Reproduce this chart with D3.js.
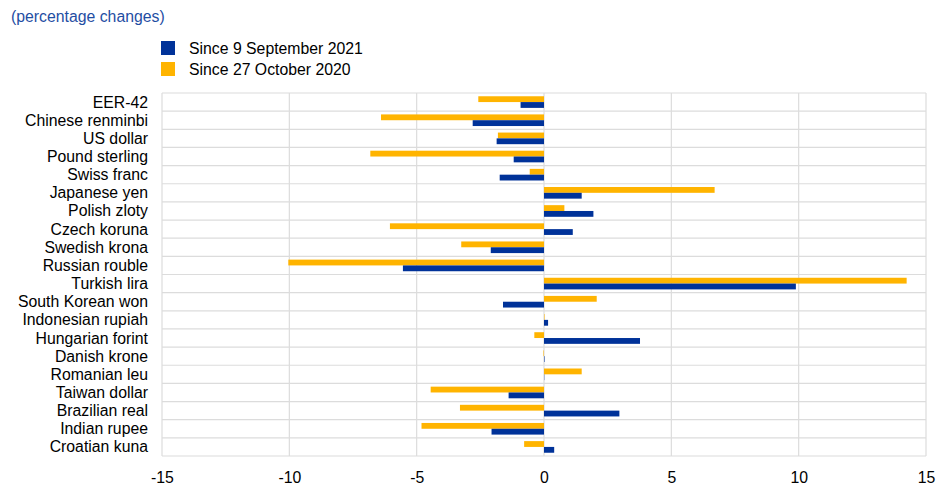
<!DOCTYPE html>
<html>
<head>
<meta charset="utf-8">
<script src="https://cdn.jsdelivr.net/npm/d3@7"></script>
<style>
  body { margin: 0; background: #fff; }
  svg { font-family: "Liberation Sans", Arial, sans-serif; }
</style>
</head>
<body>
<div id="chart"></div>
<script>
// categories, top to bottom
let categories = ['EER-42', 'Chinese renminbi', 'US dollar', 'Pound sterling', 'Swiss franc',
  'Japanese yen', 'Polish zloty', 'Czech koruna', 'Swedish krona', 'Russian rouble',
  'Turkish lira', 'South Korean won', 'Indonesian rupiah', 'Hungarian forint', 'Danish krone',
  'Romanian leu', 'Taiwan dollar', 'Brazilian real', 'Indian rupee', 'Croatian kuna'];

let seriesNames = ['Since 9 September 2021', 'Since 27 October 2020'];

// since 9 September 2021
let sinceSep2021 = [-0.92, -2.80, -1.86, -1.19, -1.74, 1.48, 1.94, 1.13, -2.09, -5.54,
  9.89, -1.61, 0.16, 3.77, 0.02, 0.01, -1.39, 2.96, -2.06, 0.40];
// since 27 October 2020
let sinceOct2020 = [-2.58, -6.40, -1.81, -6.82, -0.56, 6.70, 0.80, -6.05, -3.25, -10.04,
  14.24, 2.07, 0.02, -0.38, -0.02, 1.48, -4.45, -3.30, -4.81, -0.78];

let xTicks = [-15, -10, -5, 0, 5, 10, 15];

let colors = { 'Since 9 September 2021': '#003299', 'Since 27 October 2020': '#ffb400' };

let width = 946, height = 486;
let margin = { top: 93, right: 20, bottom: 30, left: 162 };
let fontSize = '15.8px';

let svg = d3.select('#chart').append('svg')
  .attr('width', width)
  .attr('height', height);

// header
svg.append('text')
  .attr('x', 11).attr('y', 22)
  .attr('fill', '#1f4ea3')
  .style('font-size', fontSize)
  .text('(percentage changes)');

// legend (blue first, orange second)
let legend = svg.append('g');
seriesNames.forEach(function(name, i) {
  let g = legend.append('g').attr('transform', 'translate(161,' + (41 + i * 21) + ')');
  g.append('rect').attr('width', 14).attr('height', 14).attr('fill', colors[name]);
  g.append('text').attr('x', 28).attr('y', 12.5)
    .style('font-size', fontSize).attr('fill', '#000').text(name);
});

let x = d3.scaleLinear().domain([-15, 15]).range([margin.left, 926]);
let y = d3.scaleBand().domain(categories).range([margin.top, 456]).paddingInner(0).paddingOuter(0);

// orange above blue in each row
let sub = d3.scaleBand().domain(['oct', 'sep']).range([0, y.bandwidth()])
  .paddingInner(0).paddingOuter(0.56);

// grid
let grid = svg.append('g');
grid.selectAll('line.v').data(xTicks).enter().append('line')
  .attr('x1', d => x(d)).attr('x2', d => x(d))
  .attr('y1', margin.top).attr('y2', 456)
  .attr('stroke', '#dcdcdc').attr('stroke-width', 1.2);
let bounds = categories.map(c => y(c)).concat([456]);
grid.selectAll('line.h').data(bounds).enter().append('line')
  .attr('x1', x(-15)).attr('x2', x(15))
  .attr('y1', d => d).attr('y2', d => d)
  .attr('stroke', '#dcdcdc').attr('stroke-width', 1.2);

let rows = categories.map(function(c, i) {
  return { cat: c, oct: sinceOct2020[i], sep: sinceSep2021[i] };
});

let bars = svg.append('g');
['oct', 'sep'].forEach(function(key) {
  let col = key === 'oct' ? colors['Since 27 October 2020'] : colors['Since 9 September 2021'];
  bars.selectAll('rect.' + key).data(rows).enter().append('rect')
    .attr('class', key)
    .attr('x', d => x(Math.min(0, d[key])))
    .attr('y', d => y(d.cat) + sub(key))
    .attr('width', d => Math.abs(x(d[key]) - x(0)))
    .attr('height', sub.bandwidth())
    .attr('fill', col);
});

// category labels
svg.append('g').selectAll('text').data(categories).enter().append('text')
  .attr('x', 148)
  .attr('y', d => y(d) + y.bandwidth() / 2 + 5.5)
  .attr('text-anchor', 'end')
  .style('font-size', fontSize)
  .attr('fill', '#000')
  .text(d => d);

// x axis, plain hyphen for minus like the original
let xAxis = d3.axisBottom(x).tickValues(xTicks).tickSize(0).tickPadding(10)
  .tickFormat(d => String(d));
let ax = svg.append('g').attr('transform', 'translate(0,462)').call(xAxis);
ax.select('.domain').remove();
ax.selectAll('text').style('font-size', fontSize).attr('fill', '#000')
  .style('font-family', '"Liberation Sans", Arial, sans-serif');
</script>
</body>
</html>
